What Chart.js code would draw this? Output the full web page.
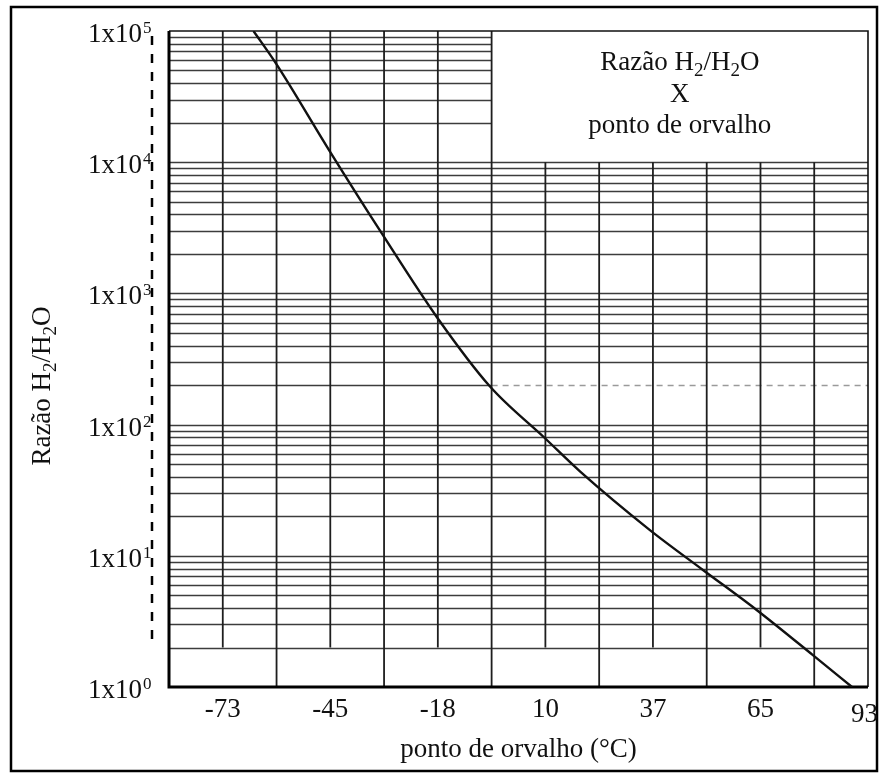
<!DOCTYPE html>
<html><head><meta charset="utf-8">
<script src="https://cdn.jsdelivr.net/npm/chart.js@4.4.1/dist/chart.umd.min.js"></script>
<style>html,body{margin:0;padding:0;background:#fff;}canvas{display:block;}</style>
</head><body>
<canvas id="c" width="883" height="778"></canvas>
<script>
// ---- data ----
const dewPointC   = [-65.4, -59.6, -45.6, -32.0, -18.1, -4.3, 9.9, 19.0, 37.0, 50.7, 64.9, 79.1, 89.2];
const ratioH2H2O  = [100000, 56700, 12000, 2790, 664, 195, 78.7, 43.8, 15.7, 7.8, 3.8, 1.75, 1];

// vertical grid lines (every 25 °F expressed in °C)
const xGridC      = [-87.22, -73.33, -59.44, -45.56, -31.67, -17.78, -3.89, 10.00, 23.89, 37.78, 51.67, 65.56, 79.44, 93.33];
const xTickValues = [-73.33, -45.56, -17.78, 10.00, 37.78, 65.56, 93.33];
const xTickLabels = ['-73', '-45', '-18', '10', '37', '65', '93'];
const yDecades    = [1, 10, 100, 1000, 10000, 100000];
const yExponents  = ['0', '1', '2', '3', '4', '5'];
const yMinorSteps = [2, 3, 4, 5, 6, 7, 8, 9];
const insetStartC = -3.89;   // inset title box begins at this grid line
const shortLineStop = 2;     // labelled vertical lines stop at this ratio

const SERIF = '"Liberation Serif", "Times New Roman", serif';

function richText(ctx, parts, x, y, align, size, subSize, subDy) {
  let w = 0;
  parts.forEach(p => { ctx.font = (p.sub ? subSize : size) + 'px ' + SERIF; p.w = ctx.measureText(p.t).width; w += p.w; });
  let cx = align === 'center' ? x - w / 2 : (align === 'right' ? x - w : x);
  ctx.textAlign = 'left';
  ctx.textBaseline = 'alphabetic';
  parts.forEach(p => {
    ctx.font = (p.sub ? subSize : size) + 'px ' + SERIF;
    ctx.fillText(p.t, cx, y + (p.sub ? subDy : 0));
    cx += p.w;
  });
}

const paper = {
  id: 'paper',
  beforeDatasetsDraw(chart) {
    const ctx = chart.ctx, xs = chart.scales.x, ys = chart.scales.y, a = chart.chartArea;
    ctx.save();
    // outer frame
    ctx.strokeStyle = '#000'; ctx.lineWidth = 2.5;
    ctx.strokeRect(11, 7, 866, 764);

    const xInset = xs.getPixelForValue(insetStartC);
    const yInsetBottom = ys.getPixelForValue(10000);
    // horizontal grid lines
    ctx.strokeStyle = '#3c3c3c'; ctx.lineWidth = 1.4;
    yDecades.slice(0, 5).forEach(d => {
      const vals = (d === 1 ? [] : [d]).concat(yMinorSteps.map(m => m * d));
      vals.forEach(v => {
        const py = Math.round(ys.getPixelForValue(v)) + 0.5;
        const right = v > 10000 ? xInset : a.right;
        if (v === 200) {
          ctx.beginPath(); ctx.moveTo(a.left, py); ctx.lineTo(xInset, py); ctx.stroke();
          ctx.save(); ctx.strokeStyle = '#9a9a9a'; ctx.setLineDash([6, 5]);
          ctx.beginPath(); ctx.moveTo(xInset, py); ctx.lineTo(a.right, py); ctx.stroke();
          ctx.restore();
        } else {
          ctx.beginPath(); ctx.moveTo(a.left, py); ctx.lineTo(right, py); ctx.stroke();
        }
      });
    });
    // vertical grid lines
    ctx.strokeStyle = '#1e1e1e'; ctx.lineWidth = 1.8;
    xGridC.forEach((v, i) => {
      if (i === 0 || i === xGridC.length - 1) return;
      const px = xs.getPixelForValue(v);
      const top = v > insetStartC + 0.01 ? yInsetBottom : a.top;
      const bottom = (i % 2 === 1) ? ys.getPixelForValue(shortLineStop) : a.bottom;
      ctx.beginPath(); ctx.moveTo(px, top); ctx.lineTo(px, bottom); ctx.stroke();
    });
    // plot borders
    ctx.strokeStyle = '#111'; ctx.lineWidth = 1.6;
    ctx.beginPath(); ctx.moveTo(a.left, a.top); ctx.lineTo(a.right, a.top); ctx.lineTo(a.right, a.bottom); ctx.stroke();
    ctx.strokeStyle = '#000'; ctx.lineWidth = 3;
    ctx.beginPath(); ctx.moveTo(a.left, a.top); ctx.lineTo(a.left, a.bottom); ctx.lineTo(a.right, a.bottom); ctx.stroke();
    ctx.restore();
  },
  afterDraw(chart) {
    const ctx = chart.ctx, xs = chart.scales.x, ys = chart.scales.y, a = chart.chartArea;
    ctx.save();
    ctx.fillStyle = '#111';
    // y tick labels 1x10^n
    yDecades.forEach((d, i) => {
      const py = ys.getPixelForValue(d) + 11;
      ctx.font = '27px ' + SERIF; ctx.textAlign = 'right'; ctx.textBaseline = 'alphabetic';
      ctx.fillText('1x10', 142, py);
      ctx.font = '17px ' + SERIF; ctx.textAlign = 'left';
      ctx.fillText(yExponents[i], 143, py - 9);
    });
    // dashed line next to y labels
    ctx.strokeStyle = '#000'; ctx.lineWidth = 2.5; ctx.setLineDash([9, 9]);
    ctx.beginPath(); ctx.moveTo(152, 36); ctx.lineTo(152, 643); ctx.stroke();
    ctx.setLineDash([]);
    // x tick labels
    ctx.font = '27px ' + SERIF; ctx.textAlign = 'center'; ctx.textBaseline = 'alphabetic';
    xTickValues.forEach((v, i) => {
      let px = xs.getPixelForValue(v);
      const w = ctx.measureText(xTickLabels[i]).width;
      px = Math.min(px, 878 - w / 2);
      const dy = i === xTickLabels.length - 1 ? 5 : 0;
      ctx.fillText(xTickLabels[i], px, a.bottom + 30 + dy);
    });
    // x title
    ctx.fillText('ponto de orvalho (\u00B0C)', (a.left + a.right) / 2, 757);
    // y title
    ctx.save();
    ctx.translate(50, 386); ctx.rotate(-Math.PI / 2);
    richText(ctx, [{t: 'Raz\u00E3o H'}, {t: '2', sub: true}, {t: '/H'}, {t: '2', sub: true}, {t: 'O'}], 0, 0, 'center', 27, 19, 6);
    ctx.restore();
    // inset title
    const cx = (xs.getPixelForValue(insetStartC) + a.right) / 2;
    richText(ctx, [{t: 'Raz\u00E3o H'}, {t: '2', sub: true}, {t: '/H'}, {t: '2', sub: true}, {t: 'O'}], cx, 70, 'center', 27, 19, 6);
    ctx.font = '27px ' + SERIF; ctx.textAlign = 'center';
    ctx.fillText('X', cx, 102);
    ctx.fillText('ponto de orvalho', cx, 133);
    ctx.restore();
  }
};

new Chart(document.getElementById('c'), {
  type: 'line',
  data: {
    datasets: [{
      data: dewPointC.map((x, i) => ({x: x, y: ratioH2H2O[i]})),
      borderColor: '#111',
      borderWidth: 2.4,
      pointRadius: 0,
      fill: false,
      cubicInterpolationMode: 'monotone'
    }]
  },
  options: {
    responsive: false,
    animation: false,
    devicePixelRatio: 1,
    layout: {padding: {left: 169, right: 15, top: 31, bottom: 91}},
    plugins: {legend: {display: false}, tooltip: {enabled: false}, title: {display: false}},
    scales: {
      x: {type: 'linear', display: false, min: -87.22, max: 93.33},
      y: {type: 'logarithmic', display: false, min: 1, max: 100000}
    }
  },
  plugins: [paper]
});
</script>
</body></html>
